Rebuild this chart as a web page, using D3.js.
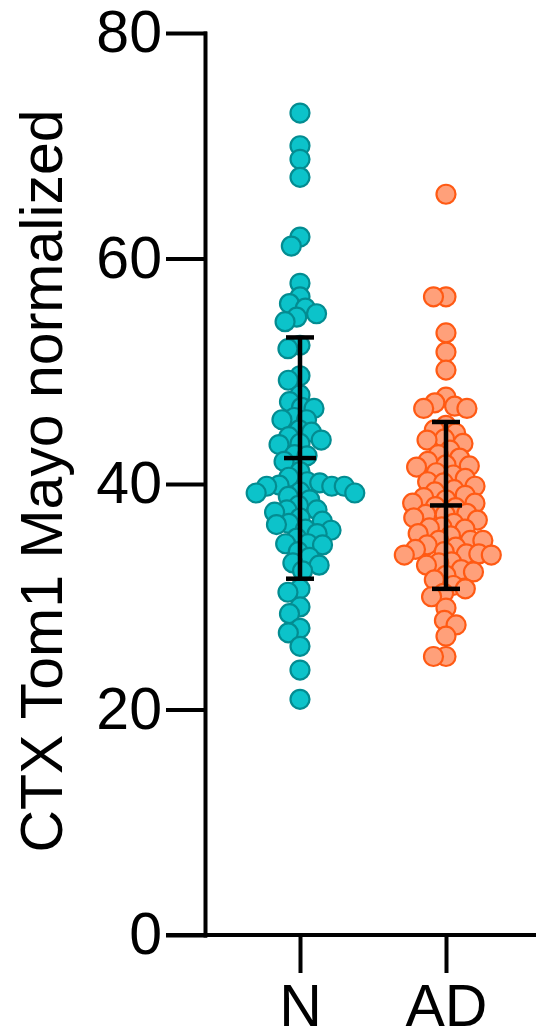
<!DOCTYPE html>
<html>
<head>
<meta charset="utf-8">
<script src="https://cdn.jsdelivr.net/npm/d3@7"></script>
<style>
  body { margin: 0; background: #fff; }
  svg { display: block; }
  text { font-family: "Liberation Sans", Arial, sans-serif; fill: #000; }
</style>
</head>
<body>
<svg id="chart" width="536" height="1035"></svg>
<script>
// values
const groups = ["N", "AD"];
const nValues = [72.9, 70.0, 68.8, 67.2, 61.9, 61.1, 57.8, 56.6, 56.0, 55.6, 55.1, 54.8, 54.4,
  52.3, 52.0, 49.6, 49.2, 47.9, 47.3, 46.8, 46.7, 45.9, 45.7, 45.7, 44.8, 44.6, 44.2,
  43.9, 43.6, 43.5, 42.6, 42.5, 42.0, 41.1, 40.6, 40.2, 40.1, 39.9, 39.8, 39.8, 39.8,
  39.3, 39.2, 39.2, 38.9, 38.6, 38.1, 37.7, 37.7, 37.5, 37.0, 36.7, 36.5, 36.4, 36.0,
  35.9, 35.6, 35.2, 34.7, 34.7, 34.6, 34.0, 33.5, 33.0, 32.8, 32.3,
  30.7, 30.4, 29.1, 28.5, 27.2, 26.8, 25.6, 23.5, 20.9];
const adValues = [65.7, 56.6, 56.6, 53.4, 51.7, 50.1, 47.7, 47.2, 46.9, 46.7, 46.7,
  45.2, 44.8, 44.5, 44.0, 43.9, 43.6, 43.0, 42.6, 42.3, 42.0, 41.7, 41.6, 41.5, 41.0,
  40.8, 40.5, 40.2, 40.1, 39.8, 39.5, 39.3, 39.0, 38.8, 38.6, 38.3, 38.3, 38.0, 37.9,
  37.4, 37.3, 37.3, 37.0, 36.8, 36.5, 36.2, 36.1, 36.0, 35.6, 35.4, 35.0, 35.0, 35.0,
  34.6, 34.4, 34.2, 34.0, 33.8, 33.8, 33.7, 33.7, 33.1, 33.0, 32.8, 32.4, 32.2, 31.9,
  31.5, 31.0, 30.7, 30.3, 30.0, 29.0, 27.9, 27.5, 26.5, 24.7, 24.7];
const means = [42.3, 38.1];
const sds = [10.7, 7.4];
const yTicks = [0, 20, 40, 60, 80];
const yLabel = "CTX Tom1 Mayo normalized";

const fills = ["#0cc3ca", "#ffa07a"];
const strokes = ["#038c91", "#ff5a14"];

const svg = d3.select("svg#chart");
const axisX = 205;
const axisY = 935;

const y = d3.scaleLinear().domain([0, 80]).range([axisY, 33]);
const x = d3.scalePoint().domain(groups).range([300, 446]);

// simple beeswarm: nearest free offset from the centre
function swarm(values, minDist) {
  const pts = values.map((v) => ({ v: v, py: y(v), dx: 0 }))
    .sort((a, b) => a.py - b.py);
  const placed = [];
  pts.forEach((p) => {
    const blocks = [];
    placed.forEach((q) => {
      const dy = Math.abs(q.py - p.py);
      if (dy < minDist) {
        const w = Math.sqrt(minDist * minDist - dy * dy);
        blocks.push([q.dx - w, q.dx + w]);
      }
    });
    const cands = [0];
    blocks.forEach((b) => { cands.push(b[0], b[1]); });
    cands.sort((a, b) => Math.abs(a) - Math.abs(b));
    const ok = cands.find((c) => blocks.every((b) => c <= b[0] + 1e-6 || c >= b[1] - 1e-6));
    p.dx = ok;
    placed.push(p);
  });
  return pts;
}

const allData = [nValues, adValues];

// points
allData.forEach((vals, gi) => {
  const pts = swarm(vals, 12.5);
  svg.append("g")
    .attr("class", "dots")
    .selectAll("circle")
    .data(pts)
    .join("circle")
    .attr("cx", (d) => x(groups[gi]) + d.dx)
    .attr("cy", (d) => d.py)
    .attr("r", 9.5)
    .attr("fill", fills[gi])
    .attr("stroke", strokes[gi])
    .attr("stroke-width", 2.2);
});

// mean +- SD
const bars = svg.append("g").attr("class", "errbars")
  .attr("stroke", "#000").attr("stroke-width", 4.5);
groups.forEach((g, i) => {
  const cx = x(g);
  bars.append("line")
    .attr("x1", cx).attr("x2", cx)
    .attr("y1", y(means[i] - sds[i])).attr("y2", y(means[i] + sds[i]));
  [means[i] - sds[i], means[i] + sds[i]].forEach((v) => {
    bars.append("line")
      .attr("x1", cx - 14).attr("x2", cx + 14)
      .attr("y1", y(v)).attr("y2", y(v));
  });
  bars.append("line")
    .attr("x1", cx - 16).attr("x2", cx + 16)
    .attr("y1", y(means[i])).attr("y2", y(means[i]));
});

// y axis
const yAxis = svg.append("g")
  .attr("class", "y axis")
  .attr("transform", `translate(${axisX},0)`)
  .call(d3.axisLeft(y).tickValues(yTicks).tickSize(37).tickSizeOuter(0).tickPadding(6));

// x axis
const xAxis = svg.append("g")
  .attr("class", "x axis")
  .attr("transform", `translate(0,${axisY})`)
  .call(d3.axisBottom(x).tickSize(36).tickSizeOuter(0).tickPadding(13));
xAxis.select(".domain").attr("d", `M${axisX - 37},0H536`);

svg.selectAll(".axis .domain, .axis line")
  .attr("stroke", "#000")
  .attr("stroke-width", 4)
  .attr("stroke-linecap", "square");
svg.selectAll(".axis text")
  .attr("fill", "#000")
  .style("font-size", "59px")
  .style("font-family", "'Liberation Sans', Arial, sans-serif");

// axis title
svg.append("text")
  .attr("transform", "rotate(-90)")
  .attr("x", -(y(0) + y(80)) / 2 + 3)
  .attr("y", 62)
  .attr("text-anchor", "middle")
  .style("font-size", "59px")
  .text(yLabel);
</script>
</body>
</html>
